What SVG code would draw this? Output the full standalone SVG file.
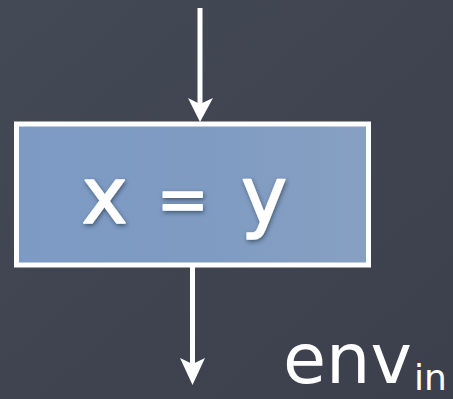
<svg xmlns="http://www.w3.org/2000/svg" width="453" height="399" viewBox="0 0 453 399">
<defs>
<linearGradient id="bg" x1="0" y1="0" x2="1" y2="1">
<stop offset="0" stop-color="#444956"/>
<stop offset="0.5" stop-color="#3f4450"/>
<stop offset="1" stop-color="#3b404c"/>
</linearGradient>
<linearGradient id="boxfill" x1="0" y1="0" x2="1" y2="0">
<stop offset="0" stop-color="#7c9ac4"/>
<stop offset="0.5" stop-color="#7f9bc2"/>
<stop offset="1" stop-color="#87a0c2"/>
</linearGradient>
<filter id="shadow" x="-20%" y="-20%" width="140%" height="140%">
<feDropShadow dx="1" dy="2" stdDeviation="2" flood-color="#1e2a40" flood-opacity="0.6"/>
</filter>
<style>
.conn{stroke:#ffffff;stroke-width:5;fill:none}
.head{fill:#ffffff}
.lbl{font-family:"DejaVu Sans","Liberation Sans",sans-serif;fill:#ffffff}
</style>
</defs>
<rect x="0" y="0" width="453" height="399" fill="url(#bg)"/>
<g id="node-assign">
<rect x="16.5" y="124" width="352" height="141" fill="url(#boxfill)" stroke="#ffffff" stroke-width="5"/>
<text class="lbl" y="223" font-size="78" text-anchor="middle" stroke="#ffffff" stroke-width="1.5" stroke-linejoin="round" filter="url(#shadow)"><tspan x="117">x</tspan> <tspan x="195" font-size="62" dy="-2">=</tspan> <tspan x="264" dy="2">y</tspan></text>
</g>
<g id="connectors">
<line class="conn" x1="200" y1="8" x2="200" y2="106"/>
<path class="head" d="M200,122 L188,98 L200,104 L213,98 Z"/>
<line class="conn" x1="192.5" y1="267" x2="192.5" y2="366"/>
<path class="head" d="M192.5,385 L180,358 L192.5,364 L205,358 Z"/>
</g>
<g id="label-env">
<text class="lbl" x="283" y="383" font-size="70">env</text>
<text class="lbl" x="414" y="390" font-size="36">in</text>
</g>
</svg>
